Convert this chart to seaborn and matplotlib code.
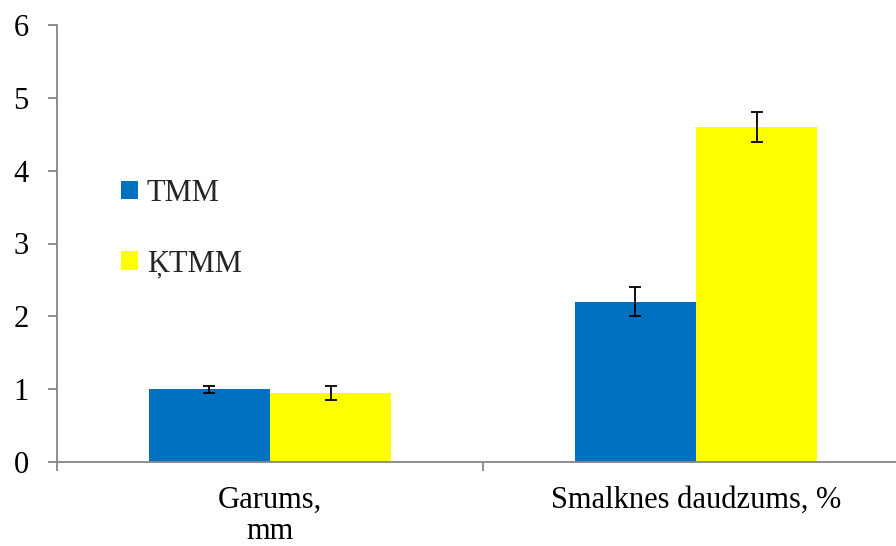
import numpy as np
import pandas as pd
import seaborn as sns
from matplotlib import pyplot as plt
from matplotlib.ticker import FixedLocator

# data
categories = ['Garums,\nmm', 'Smalknes daudzums, %']
series = ['TMM', 'ĶTMM']
tmm_values = [1.0, 2.2]
ktmm_values = [0.95, 4.6]
tmm_err = [0.05, 0.2]
ktmm_err = [0.1, 0.2]
y_ticks = [0, 1, 2, 3, 4, 5, 6]

colors = ['#0070C0', '#FFFF00']
axis_grey = '#868686'

df = pd.DataFrame({
    'category': categories * 2,
    'series': [series[0]] * 2 + [series[1]] * 2,
    'value': tmm_values + ktmm_values,
    'err': tmm_err + ktmm_err,
})

sns.set_theme(style='white')
plt.rcParams['font.family'] = ['Liberation Serif', 'DejaVu Serif']

fig = plt.figure(figsize=(8.96, 5.46), dpi=100)
ax = fig.add_axes([57 / 896, 1 - 462 / 546, 852 / 896, (462 - 25) / 546])

sns.barplot(data=df, x='category', y='value', hue='series', palette=colors,
            width=0.57, errorbar=None, saturation=1, linewidth=0, ax=ax, legend=True)

# error bars at bar centres
for container, s in zip(ax.containers, series):
    sub = df[df['series'] == s]
    xs = [p.get_x() + p.get_width() / 2 for p in container.patches]
    ax.errorbar(xs, sub['value'].values, yerr=sub['err'].values, fmt='none',
                ecolor='black', elinewidth=1.3, capsize=4.5, capthick=1.3)

ax.set_xlim(-0.5, 1.5)
ax.set_ylim(0, 6)
ax.set_yticks(y_ticks)
ax.set_xlabel('')
ax.set_ylabel('')

for side in ['top', 'right']:
    ax.spines[side].set_visible(False)
for side in ['left', 'bottom']:
    ax.spines[side].set_color(axis_grey)
    ax.spines[side].set_linewidth(1.3)

ax.tick_params(axis='y', which='major', length=6.5, width=1.3, color=axis_grey,
               labelsize=22, labelcolor='black', pad=14, left=True)
ax.tick_params(axis='x', which='major', length=0, labelsize=22,
               labelcolor='black', pad=17)
for lbl in ax.get_xticklabels():
    lbl.set_linespacing(1.1)
ax.xaxis.set_minor_locator(FixedLocator([-0.5, 0.5, 1.5]))
ax.tick_params(axis='x', which='minor', length=6.5, width=1.3, color=axis_grey,
               bottom=True)

# legend
handles, labels = ax.get_legend_handles_labels()
ax.legend(handles, labels, loc='upper left', frameon=False,
          bbox_to_anchor=(121 / 896, 1 - 179 / 546), bbox_transform=fig.transFigure,
          fontsize=22, handlelength=0.55, handleheight=0.55, handletextpad=0.3,
          labelspacing=1.35, borderpad=0, borderaxespad=0)

fig.savefig('out.png', dpi=100)
